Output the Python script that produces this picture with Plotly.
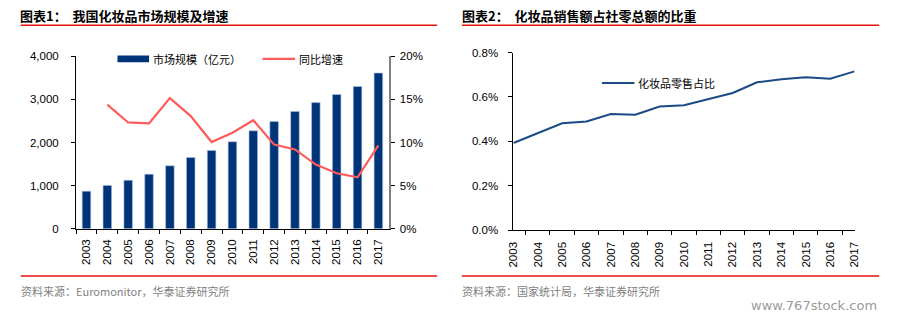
import plotly.graph_objects as go

years = ["2003", "2004", "2005", "2006", "2007", "2008", "2009", "2010",
         "2011", "2012", "2013", "2014", "2015", "2016", "2017"]
market_size = [871, 1006, 1125, 1266, 1460, 1654, 1818, 2019,
               2272, 2488, 2719, 2927, 3114, 3300, 3613]
growth_years = years[1:]
growth = [0.1441, 0.1233, 0.1222, 0.1516, 0.1307, 0.1006, 0.1114,
          0.1259, 0.0976, 0.0920, 0.0745, 0.0644, 0.0596, 0.0968]
retail_share = [0.00393, 0.00439, 0.00482, 0.00490, 0.00523, 0.00520, 0.00557,
                0.00563, 0.00591, 0.00618, 0.00666, 0.00680, 0.00689, 0.00682, 0.00715]

W, H = 899, 324
def px(x): return x / W
def py(y): return 1 - y / H

NAVY = "#003478"
RED_LINE = "#FF5B5B"
BLUE_LINE = "#1B4A85"
TXT = "#000000"
FONT = "Liberation Sans, Arial, sans-serif"
CJK = "Noto Sans CJK SC"

fig = go.Figure()

fig.add_trace(go.Bar(x=years, y=market_size, xaxis="x", yaxis="y",
                     marker=dict(color=NAVY, line=dict(color="#A9C4E4", width=0.6)),
                     name="市场规模（亿元）", showlegend=False))
fig.add_trace(go.Scatter(x=growth_years, y=growth, xaxis="x", yaxis="y2",
                         mode="lines", line=dict(color=RED_LINE, width=2.2),
                         name="同比增速", showlegend=False))
fig.add_trace(go.Scatter(x=years, y=retail_share, xaxis="x2", yaxis="y3",
                         mode="lines", line=dict(color=BLUE_LINE, width=2),
                         name="化妆品零售占比", showlegend=False))

tickfont = dict(family=FONT, size=11.5, color=TXT)

fig.update_layout(
    width=W, height=H, margin=dict(l=0, r=0, t=0, b=0),
    paper_bgcolor="white", plot_bgcolor="white",
    bargap=0.59,
    xaxis=dict(domain=[px(71), px(388)], anchor="y", type="category",
               showline=True, linecolor="#000", linewidth=1,
               ticks="outside", ticklen=4, tickcolor="#000", tickson="boundaries",
               tickangle=-90, tickfont=tickfont, showgrid=False, ticklabelstandoff=5),
    yaxis=dict(domain=[py(231.3), py(52.3)], anchor="x", range=[0, 4000], dtick=1000,
               tickformat=",", showline=True, linecolor="#000", linewidth=1,
               ticks="outside", ticklen=4, tickcolor="#000", showgrid=False,
               zeroline=False, tickfont=tickfont, ticklabelstandoff=10),
    yaxis2=dict(overlaying="y", side="right", anchor="x", range=[0, 0.2], dtick=0.05,
                tickformat=".0%", showline=True, linecolor="#808080", linewidth=1.5,
                ticks="outside", ticklen=4, tickcolor="#000", showgrid=False,
                zeroline=False, tickfont=tickfont, ticklabelstandoff=3),
    xaxis2=dict(domain=[px(514.3), px(860)], anchor="y3", type="category",
                showline=True, linecolor="#000", linewidth=1,
                ticks="outside", ticklen=4, tickcolor="#000", tickson="boundaries",
                tickangle=-90, tickfont=tickfont, showgrid=False, ticklabelstandoff=6),
    yaxis3=dict(domain=[py(233), py(48.3)], anchor="x2", range=[0, 0.008], dtick=0.002,
                tickformat=".1%", showline=True, linecolor="#000", linewidth=1,
                ticks="outside", ticklen=4, tickcolor="#000", showgrid=False,
                zeroline=False, tickfont=tickfont, ticklabelstandoff=8),
)

shapes = []
annotations = []
# red separator lines
for x0, x1 in [(15, 437), (462, 885)]:
    for y in (20, 280.5):
        shapes.append(dict(type="line", xref="paper", yref="paper",
                           x0=px(x0), x1=px(x1), y0=py(y), y1=py(y),
                           line=dict(color="#E5120C", width=1.5)))

# legends (manual)
shapes.append(dict(type="rect", xref="paper", yref="paper",
                   x0=px(113), x1=px(145), y0=py(58.5), y1=py(51.5),
                   fillcolor=NAVY, line=dict(width=0)))
annotations.append(dict(text="市场规模（亿元）", xref="paper", yref="paper",
                        x=px(147), y=py(55), xanchor="left", yanchor="middle",
                        showarrow=False, font=dict(family=CJK, size=11, color=TXT)))
shapes.append(dict(type="line", xref="paper", yref="paper",
                   x0=px(260), x1=px(293), y0=py(55), y1=py(55),
                   line=dict(color=RED_LINE, width=2.2)))
annotations.append(dict(text="同比增速", xref="paper", yref="paper",
                        x=px(295), y=py(55), xanchor="left", yanchor="middle",
                        showarrow=False, font=dict(family=CJK, size=11, color=TXT)))
shapes.append(dict(type="line", xref="paper", yref="paper",
                   x0=px(604), x1=px(637), y0=py(80), y1=py(80),
                   line=dict(color=BLUE_LINE, width=2)))
annotations.append(dict(text="化妆品零售占比", xref="paper", yref="paper",
                        x=px(639), y=py(80), xanchor="left", yanchor="middle",
                        showarrow=False, font=dict(family=CJK, size=11, color=TXT)))

# titles
annotations.append(dict(text="<b>图表1：  我国化妆品市场规模及增速</b>", xref="paper", yref="paper",
                        x=px(12), y=py(10), xanchor="left", yanchor="middle",
                        showarrow=False, font=dict(family=CJK, size=13, color=TXT)))
annotations.append(dict(text="<b>图表2：  化妆品销售额占社零总额的比重</b>", xref="paper", yref="paper",
                        x=px(460), y=py(10), xanchor="left", yanchor="middle",
                        showarrow=False, font=dict(family=CJK, size=13, color=TXT)))
# sources
annotations.append(dict(text="资料来源：Euromonitor，华泰证券研究所", xref="paper", yref="paper",
                        x=px(13), y=py(296), xanchor="left", yanchor="middle",
                        showarrow=False, font=dict(family=CJK, size=11, color="#7F7F7F")))
annotations.append(dict(text="资料来源：国家统计局，华泰证券研究所", xref="paper", yref="paper",
                        x=px(460), y=py(296), xanchor="left", yanchor="middle",
                        showarrow=False, font=dict(family=CJK, size=11, color="#7F7F7F")))
annotations.append(dict(text="www.767stock.com", xref="paper", yref="paper",
                        x=px(885), y=py(311), xanchor="right", yanchor="middle",
                        showarrow=False, font=dict(family="DejaVu Sans", size=13, color="#9A9A9A")))

fig.update_layout(shapes=shapes, annotations=annotations)
fig.write_html("out.html")
